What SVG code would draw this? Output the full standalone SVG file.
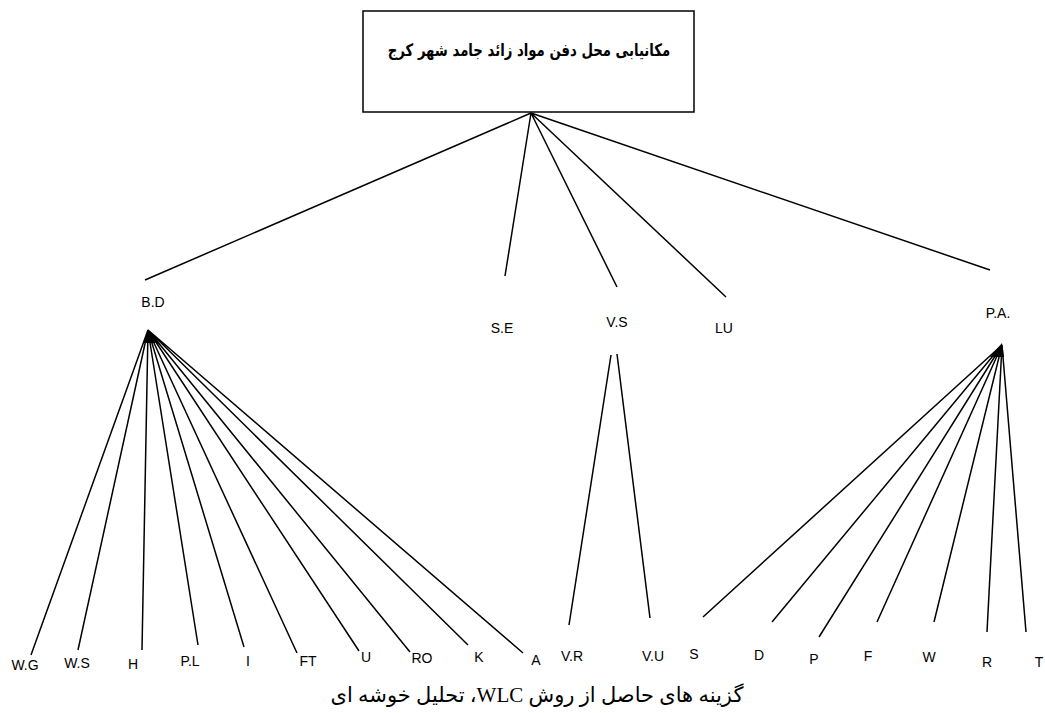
<svg xmlns="http://www.w3.org/2000/svg" width="1045" height="713" viewBox="0 0 1045 713">
<style>
.ln{stroke:#000;stroke-width:1.5;fill:none}
.lb{font-family:"Liberation Sans Narrow","Liberation Sans",Arial,sans-serif;font-size:14px;fill:#000;text-anchor:middle}
.fa{font-family:"DejaVu Sans","Noto Sans",sans-serif;fill:#000;text-anchor:middle}
</style>
<rect width="1045" height="713" fill="#fff"/>
<g id="root">
<rect x="363" y="11" width="331" height="101" fill="#fff" stroke="#000" stroke-width="1.5"/>
<text class="fa" x="529" y="56" font-size="17" font-weight="bold" direction="rtl" transform="translate(529 0) scale(0.78 1) translate(-529 0)">مکانیابی محل دفن مواد زائد جامد شهر کرج</text>
</g>
<g id="connectors">
<path class="ln" d="M531 113L145 280M531 113L505 276M531 113L617 287M531 113L726 297M531 113L990 270"/>
<path class="ln" d="M148 330L31 655M148 330L78 650M148 330L142 650M148 330L198 645M148 330L244 647M148 330L297 653M148 330L359 651M148 330L410 652M148 330L468 645M148 330L523 653"/>
<polygon points="148,330 143,343 156,343" fill="#000"/>
<path class="ln" d="M611 355L569 625M617 354L650 618"/>
<path class="ln" d="M1002 345L703 617M1002 345L772 622M1002 345L819 637M1002 345L877 622M1002 345L934 622M1002 345L987 632M1002 345L1026 632"/>
<polygon points="1002,343 990,357 1004,357" fill="#000"/>
</g>
<g id="n-bd"><text class="lb" x="153" y="307">B.D</text></g>
<g id="n-se"><text class="lb" x="502" y="333">S.E</text></g>
<g id="n-vs"><text class="lb" x="617" y="327">V.S</text></g>
<g id="n-lu"><text class="lb" x="724" y="333">LU</text></g>
<g id="n-pa"><text class="lb" x="998" y="318">P.A.</text></g>
<g id="n-wg"><text class="lb" x="25" y="670">W.G</text></g>
<g id="n-ws"><text class="lb" x="77" y="668">W.S</text></g>
<g id="n-h"><text class="lb" x="133" y="669">H</text></g>
<g id="n-pl"><text class="lb" x="190" y="666">P.L</text></g>
<g id="n-i"><text class="lb" x="248" y="666">I</text></g>
<g id="n-ft"><text class="lb" x="308" y="666">FT</text></g>
<g id="n-u"><text class="lb" x="366" y="662">U</text></g>
<g id="n-ro"><text class="lb" x="422" y="663">RO</text></g>
<g id="n-k"><text class="lb" x="479" y="662">K</text></g>
<g id="n-a"><text class="lb" x="536" y="665">A</text></g>
<g id="n-vr"><text class="lb" x="572" y="661">V.R</text></g>
<g id="n-vu"><text class="lb" x="653" y="661">V.U</text></g>
<g id="n-s"><text class="lb" x="694" y="659">S</text></g>
<g id="n-d"><text class="lb" x="759" y="660">D</text></g>
<g id="n-p"><text class="lb" x="814" y="664">P</text></g>
<g id="n-f"><text class="lb" x="868" y="661">F</text></g>
<g id="n-w"><text class="lb" x="929" y="662">W</text></g>
<g id="n-r"><text class="lb" x="987" y="667">R</text></g>
<g id="n-t"><text class="lb" x="1039" y="667">T</text></g>
<text class="fa" x="537" y="702" font-size="21" direction="rtl" style="font-family:'Liberation Serif','DejaVu Serif','DejaVu Sans',serif">گزینه های حاصل از روش WLC، تحلیل خوشه ای</text>
</svg>
